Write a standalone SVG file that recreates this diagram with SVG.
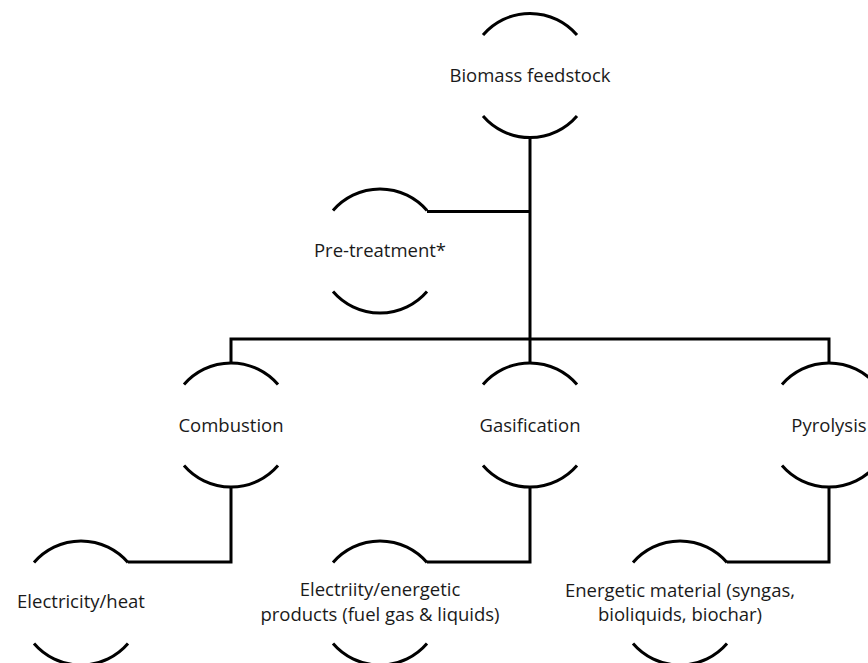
<svg xmlns="http://www.w3.org/2000/svg" width="868" height="663" viewBox="0 0 868 663">
<style>
.arc{fill:none;stroke:#000;stroke-width:3}
.con{fill:none;stroke:#000;stroke-width:3;stroke-linejoin:miter}
text{font-family:"Open Sans","Noto Sans",sans-serif;font-size:18.5px;fill:#1a1a1a;text-anchor:middle}
</style>
<rect width="868" height="663" fill="#fff"/>
<g id="connectors">
<path class="con" d="M530 137.5 V363"/>
<path class="con" d="M427 211.5 H530"/>
<path class="con" d="M231 363 V339 H829 V363"/>
<path class="con" d="M231 487.5 V562 H128"/>
<path class="con" d="M530 487.5 V562 H427"/>
<path class="con" d="M829 487.5 V562 H727"/>
</g>
<g id="biomass">
<path class="arc" d="M483 35 A62 62 0 0 1 577 35 M483 116 A62 62 0 0 0 577 116"/>
<text x="530" y="82">Biomass feedstock</text>
</g>
<g id="pretreatment">
<path class="arc" d="M333 210.5 A62 62 0 0 1 427 210.5 M333 291.5 A62 62 0 0 0 427 291.5"/>
<text x="380" y="257">Pre-treatment*</text>
</g>
<g id="combustion">
<path class="arc" d="M184 384.5 A62 62 0 0 1 278 384.5 M184 465.5 A62 62 0 0 0 278 465.5"/>
<text x="231" y="432">Combustion</text>
</g>
<g id="gasification">
<path class="arc" d="M483 384.5 A62 62 0 0 1 577 384.5 M483 465.5 A62 62 0 0 0 577 465.5"/>
<text x="530" y="432">Gasification</text>
</g>
<g id="pyrolysis">
<path class="arc" d="M782 384.5 A62 62 0 0 1 876 384.5 M782 465.5 A62 62 0 0 0 876 465.5"/>
<text x="829" y="432">Pyrolysis</text>
</g>
<g id="electricity-heat">
<path class="arc" d="M34 562.5 A62 62 0 0 1 128 562.5 M34 643.5 A62 62 0 0 0 128 643.5"/>
<text x="81" y="608">Electricity/heat</text>
</g>
<g id="electricity-energetic">
<path class="arc" d="M333 562.5 A62 62 0 0 1 427 562.5 M333 643.5 A62 62 0 0 0 427 643.5"/>
<text x="380" y="596">Electriity/energetic</text>
<text x="380" y="621">products (fuel gas &amp; liquids)</text>
</g>
<g id="energetic-material">
<path class="arc" d="M633 562.5 A62 62 0 0 1 727 562.5 M633 643.5 A62 62 0 0 0 727 643.5"/>
<text x="680" y="597">Energetic material (syngas,</text>
<text x="680" y="621">bioliquids, biochar)</text>
</g>
</svg>
